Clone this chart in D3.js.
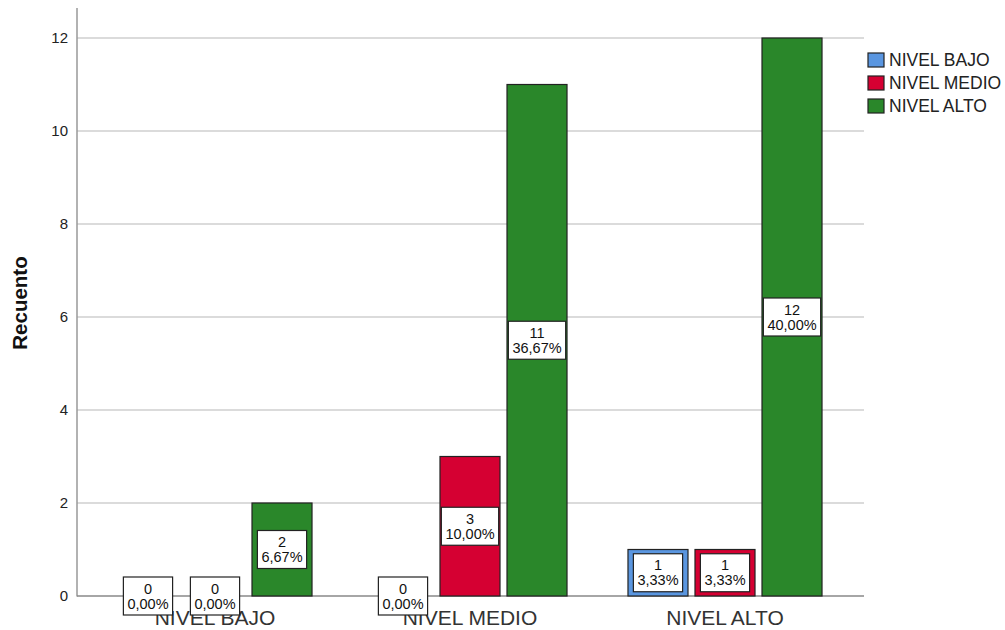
<!DOCTYPE html>
<html><head><meta charset="utf-8">
<script src="https://cdn.jsdelivr.net/npm/d3@7/dist/d3.min.js"></script>
<style>body{margin:0;background:#fff}svg{display:block}text{font-family:"Liberation Sans",Arial,sans-serif}</style>
</head><body><svg id="c" width="1005" height="630"></svg>
<script>
const categories = ["NIVEL BAJO", "NIVEL MEDIO", "NIVEL ALTO"];
const seriesNames = ["NIVEL BAJO", "NIVEL MEDIO", "NIVEL ALTO"];
const seriesColors = ["#5a96e0", "#d50032", "#2a872a"];
const countsBajo  = [0, 0, 1];
const countsMedio = [0, 3, 1];
const countsAlto  = [2, 11, 12];
const pctBajo  = ["0,00%", "0,00%", "3,33%"];
const pctMedio = ["0,00%", "10,00%", "3,33%"];
const pctAlto  = ["6,67%", "36,67%", "40,00%"];
const yTicks = [0, 2, 4, 6, 8, 10, 12];
const yTitle = "Recuento";

const seriesCounts = [countsBajo, countsMedio, countsAlto];
const seriesPct = [pctBajo, pctMedio, pctAlto];

const svg = d3.select("#c");
const x0 = d3.scaleBand().domain(categories).range([87.5, 852.5]).padding(0);
const x1 = d3.scaleBand().domain(seriesNames).range([0, x0.bandwidth()]).paddingInner(0.1045).paddingOuter(0.455);
const y = d3.scaleLinear().domain([0, 12]).range([596, 38]);
const axL = 77, axR = 864;

// gridlines
svg.append("g").selectAll("line").data(yTicks.filter(d => d > 0)).join("line")
  .attr("x1", axL).attr("x2", axR).attr("y1", d => y(d)).attr("y2", d => y(d))
  .attr("stroke", "#cfcfcf").attr("stroke-width", 1.5);

// y axis
const yAxis = d3.axisLeft(y).tickValues(yTicks).tickSize(0).tickPadding(9).tickFormat(d3.format("d"));
const gy = svg.append("g").attr("transform", `translate(${axL},0)`).call(yAxis);
gy.select(".domain").remove();
gy.selectAll("text").attr("font-size", 15).attr("fill", "#222").attr("font-family", "Liberation Sans, Arial, sans-serif");
svg.append("line").attr("x1", axL).attr("x2", axL).attr("y1", 8).attr("y2", 596.5).attr("stroke", "#999").attr("stroke-width", 1.5);
svg.append("line").attr("x1", axL).attr("x2", axR).attr("y1", 596).attr("y2", 596).attr("stroke", "#888").attr("stroke-width", 1.5);

// y title
svg.append("text").attr("transform", "translate(27,303) rotate(-90)").attr("text-anchor", "middle")
  .attr("font-size", 20.5).attr("font-weight", "bold").attr("fill", "#111").text(yTitle);

// x labels
const xAxis = d3.axisBottom(x0).tickSize(0).tickPadding(14);
const gx = svg.append("g").attr("transform", "translate(0,596)").call(xAxis);
gx.select(".domain").remove();
gx.selectAll("text").attr("font-size", 21).attr("fill", "#333").attr("font-family", "Liberation Sans, Arial, sans-serif");

// bars
const flat = [];
categories.forEach((c, ci) => {
  seriesNames.forEach((s, si) => {
    flat.push({cat: c, ser: s, si, v: seriesCounts[si][ci], p: seriesPct[si][ci]});
  });
});
const gb = svg.append("g");
gb.selectAll("rect").data(flat.filter(d => d.v > 0)).join("rect")
  .attr("x", d => x0(d.cat) + x1(d.ser)).attr("width", x1.bandwidth())
  .attr("y", d => y(d.v)).attr("height", d => y(0) - y(d.v))
  .attr("fill", d => seriesColors[d.si]).attr("stroke", "#222").attr("stroke-width", 1.2);

// labels
const gl = svg.append("g");
flat.forEach(d => {
  const cx = x0(d.cat) + x1(d.ser) + x1.bandwidth() / 2;
  const cy = (y(d.v) + y(0)) / 2;
  const g = gl.append("g").attr("transform", `translate(${cx},${cy})`);
  const t = g.append("text").attr("text-anchor", "middle").attr("font-size", 14.5).attr("fill", "#111");
  t.append("tspan").attr("x", 0).attr("y", -2.5).text(d.v);
  t.append("tspan").attr("x", 0).attr("y", 12.5).text(d.p);
  const w = t.node().getBBox().width + 8;
  g.insert("rect", "text").attr("x", -w / 2).attr("y", -19).attr("width", w).attr("height", 38)
    .attr("fill", "#fff").attr("stroke", "#222").attr("stroke-width", 1.2);
});

// legend
const lg = svg.append("g").attr("transform", "translate(868,53)");
seriesNames.forEach((s, i) => {
  const r = lg.append("g").attr("transform", `translate(0,${i * 23})`);
  r.append("rect").attr("width", 16).attr("height", 14).attr("fill", seriesColors[i]).attr("stroke", "#222").attr("stroke-width", 1.2);
  r.append("text").attr("x", 21).attr("y", 13).attr("font-size", 17.5).attr("fill", "#222").text(s);
});
</script></body></html>
